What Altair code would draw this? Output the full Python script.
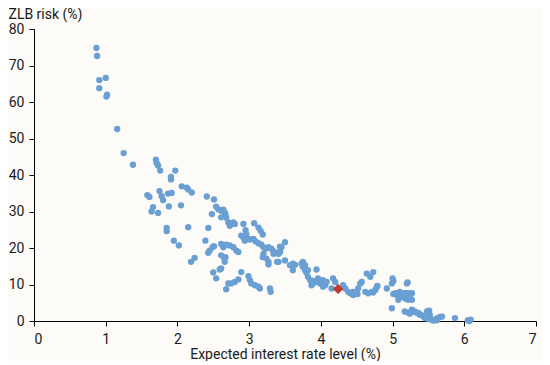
import altair as alt
import pandas as pd

# Expected interest rate level (%) / ZLB risk (%) pairs, grouped by region of the cloud
rate_high = [0.87, 0.88, 0.91, 1.00, 0.91, 1.01, 1.02, 1.16, 1.25, 1.38,
             1.70, 1.71, 1.73, 1.76, 1.97, 1.91, 1.91, 2.06, 2.13, 2.15,
             2.20, 1.58, 1.61, 1.75, 1.78, 1.80, 1.87, 1.92, 1.66, 1.64,
             1.73, 1.88, 2.05, 1.85, 1.85, 2.15, 1.95, 2.02, 2.24, 2.19]
risk_high = [74.8, 72.6, 66.0, 66.6, 63.8, 61.5, 62.0, 52.6, 46.0, 42.8,
             44.2, 43.3, 42.6, 41.2, 41.2, 39.5, 38.8, 36.9, 36.5, 36.0,
             35.2, 34.5, 34.0, 35.6, 34.2, 33.1, 34.9, 35.1, 31.2, 30.0,
             29.6, 31.4, 31.7, 25.5, 24.6, 25.7, 22.0, 20.7, 17.3, 16.2]

rate_mid1 = [2.41, 2.51, 2.54, 2.57, 2.48, 2.61, 2.66, 2.64, 2.67, 2.68,
             2.61, 2.71, 2.73, 2.75, 2.78, 2.80, 2.43, 2.39, 2.49, 2.51,
             2.45, 2.43, 2.61, 2.64, 2.68, 2.73, 2.78, 2.82, 2.85, 2.61,
             2.65, 2.67, 2.66, 2.61, 2.50, 2.54, 2.59, 2.89, 2.85, 2.80,
             2.75, 2.71, 2.68]
risk_mid1 = [34.1, 33.3, 31.3, 30.6, 29.3, 30.2, 29.7, 30.5, 29.3, 28.3,
             28.4, 27.0, 26.1, 26.6, 27.0, 26.6, 25.5, 22.0, 20.2, 20.5,
             19.3, 18.7, 21.1, 20.2, 20.9, 20.7, 20.2, 19.3, 18.9, 18.0,
             17.3, 17.5, 16.2, 14.4, 13.3, 11.7, 14.1, 13.4, 11.4, 10.7,
             10.3, 10.3, 8.7]

rate_mid2 = [2.92, 2.95, 2.96, 2.99, 2.92, 2.94, 2.89, 3.01, 3.07, 3.13,
             3.16, 3.19, 3.06, 3.09, 3.13, 3.17, 3.20, 3.23, 3.27, 3.31,
             3.34, 3.38, 3.43, 3.45, 3.50, 3.43, 3.20, 3.24, 3.27, 3.34,
             3.41, 3.43, 3.41, 3.50, 3.19, 3.27, 3.39, 2.99, 3.01, 3.03,
             3.08, 3.13, 3.15, 3.29, 3.30]
risk_mid2 = [26.6, 24.9, 23.8, 22.5, 22.9, 22.0, 23.4, 22.3, 26.8, 25.6,
             24.7, 23.7, 22.5, 21.8, 21.3, 20.9, 20.2, 19.8, 20.2, 19.8,
             19.1, 18.6, 19.1, 20.2, 21.6, 20.4, 18.4, 17.1, 16.2, 18.4,
             18.4, 18.9, 16.2, 16.6, 17.5, 15.5, 16.2, 12.3, 11.2, 10.3,
             9.8, 9.4, 8.9, 8.9, 8.0]

rate_low1 = [3.57, 3.61, 3.61, 3.64, 3.73, 3.75, 3.78, 3.75, 3.78, 3.80,
             3.82, 3.85, 3.89, 3.87, 3.94, 3.96, 3.99, 4.01, 4.03, 4.06,
             4.08, 3.94, 3.96, 4.03, 3.82, 3.89]
risk_low1 = [15.3, 15.7, 13.9, 15.4, 15.7, 16.2, 15.3, 14.8, 13.9, 13.2,
             12.1, 11.2, 10.3, 9.8, 10.7, 11.2, 10.3, 10.3, 9.4, 9.8,
             10.7, 14.1, 11.7, 11.2, 13.9, 11.0]

rate_low2 = [4.17, 4.20, 4.15, 4.31, 4.34, 4.38, 4.41, 4.45, 4.50, 4.52,
             4.55, 4.57, 4.62, 4.66, 4.71, 4.76, 4.78, 4.73, 4.64, 4.69,
             4.73, 4.79, 4.51, 4.45]
risk_low2 = [11.7, 10.7, 8.9, 9.8, 8.9, 8.0, 7.6, 8.0, 7.6, 8.9,
             10.3, 10.7, 8.0, 7.6, 8.0, 8.5, 9.4, 7.8, 13.0, 12.1,
             13.4, 9.6, 7.4, 7.1]

rate_low3 = [4.92, 4.99, 5.00, 5.01, 5.04, 5.08, 5.10, 5.17, 5.20, 5.21,
             5.22, 4.99, 5.01, 5.06, 5.08, 5.13, 5.17, 5.20, 5.24, 5.27,
             5.22, 5.13, 5.17, 5.27, 5.20, 5.24]
risk_low3 = [8.9, 10.3, 11.7, 10.9, 7.6, 7.1, 8.0, 6.2, 10.3, 10.6,
             7.6, 3.5, 7.4, 7.1, 5.8, 6.7, 6.7, 7.6, 7.1, 5.8,
             5.8, 7.6, 7.6, 7.6, 6.0, 6.5]

rate_tail = [5.17, 5.22, 5.24, 5.27, 5.29, 5.31, 5.34, 5.36, 5.38, 5.40,
             5.43, 5.45, 5.48, 5.50, 5.50, 5.51, 5.52, 5.55, 5.57, 5.59,
             5.62, 5.62, 5.66, 5.69, 5.87, 6.05, 6.07, 6.09]
risk_tail = [2.6, 2.3, 2.0, 3.1, 2.6, 2.6, 2.2, 2.2, 1.7, 1.7,
             1.2, 0.8, 2.6, 2.3, 0.5, 2.8, 1.7, 0.35, 0.1, 0.35,
             0.2, 0.7, 1.1, 1.2, 0.8, 0.2, 0.0, 0.4]

current_rate = [4.24]
current_risk = [8.8]

x_ticks = [0, 1, 2, 3, 4, 5, 6, 7]
y_ticks = [0, 10, 20, 30, 40, 50, 60, 70, 80]

rates = rate_high + rate_mid1 + rate_mid2 + rate_low1 + rate_low2 + rate_low3 + rate_tail
risks = risk_high + risk_mid1 + risk_mid2 + risk_low1 + risk_low2 + risk_low3 + risk_tail

df = pd.DataFrame({"rate": rates, "risk": risks})
df_now = pd.DataFrame({"rate": current_rate, "risk": current_risk})

FONT = "Roboto"
TEXT = "#1a1a1a"

x_enc = alt.X(
    "rate:Q",
    scale=alt.Scale(domain=[0, 7], nice=False, zero=False),
    axis=alt.Axis(
        values=x_ticks, format="d", labelOverlap=False,
        title="Expected interest rate level (%)", grid=False,
        domainColor="#000000", tickColor="#000000", tickSize=5, labelPadding=6,
        labelFontSize=14, labelColor=TEXT, labelFont=FONT,
        titleFontSize=14, titleFont=FONT, titleColor=TEXT, titleFontWeight="normal",
        titleBaseline="alphabetic", titleY=37,
    ),
)
y_enc = alt.Y(
    "risk:Q",
    scale=alt.Scale(domain=[0, 80], nice=False),
    axis=alt.Axis(
        values=y_ticks, format="d", labelOverlap=False,
        title="ZLB risk (%)", grid=False,
        domainColor="#000000", tickColor="#000000", tickSize=5, labelPadding=5,
        labelFontSize=14, labelColor=TEXT, labelFont=FONT,
        titleFontSize=14, titleFont=FONT, titleColor=TEXT, titleFontWeight="normal",
        titleAngle=0, titleAlign="left", titleBaseline="alphabetic",
        titleX=-26, titleY=-11,
    ),
)

points = alt.Chart(df).mark_circle(size=40, opacity=1, color="#6A9FD3").encode(x=x_enc, y=y_enc)
now = alt.Chart(df_now).mark_point(
    shape="diamond", size=110, filled=True, opacity=1, color="#C0392B"
).encode(x=x_enc, y=y_enc)

chart = (
    alt.layer(points, now)
    .properties(
        width=502, height=292,
        autosize=alt.AutoSizeParams(type="none"),
        padding={"left": 26, "top": 21, "right": 6, "bottom": 40},
        background="#FCFBF7",
    )
    .configure_view(stroke=None)
)

chart.save("out.html", embed_options={"renderer": "svg", "actions": False})
